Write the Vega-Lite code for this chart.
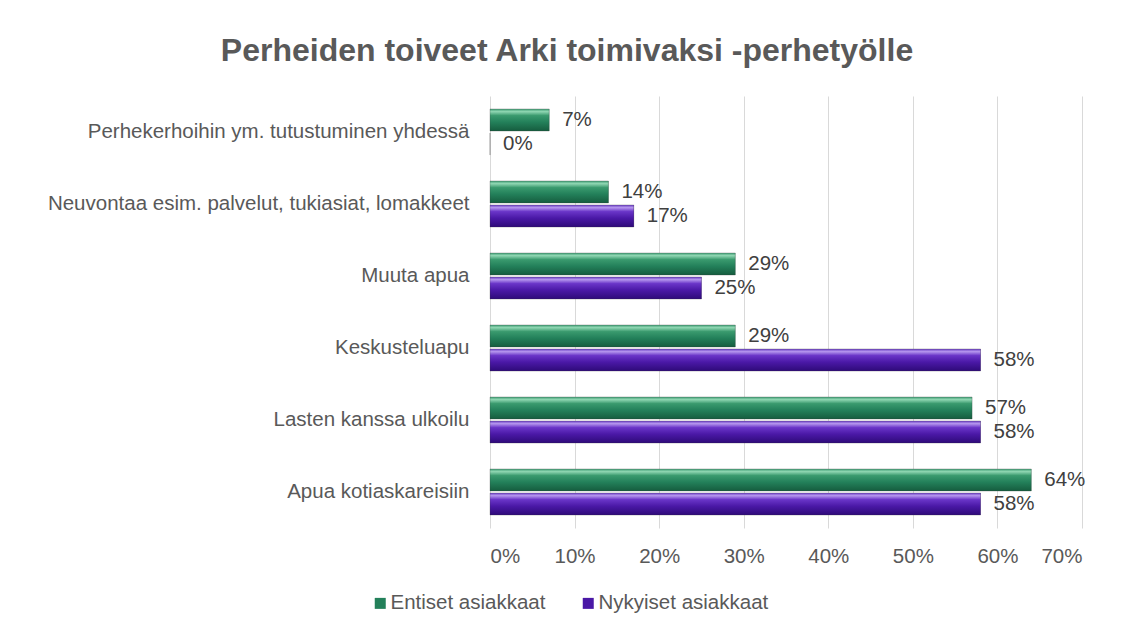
{
  "$schema": "https://vega.github.io/schema/vega-lite/v6.json",
  "width": 592,
  "height": 432,
  "autosize": {"type": "none"},
  "padding": {"left": 490, "top": 96, "right": 50, "bottom": 104},
  "background": "white",
  "config": {"font": "Liberation Sans", "view": {"stroke": null}},
  "title": {
    "text": "Perheiden toiveet Arki toimivaksi -perhetyölle",
    "fontSize": 32,
    "font": "Liberation Sans",
    "fontWeight": "bold",
    "color": "#595959",
    "anchor": "middle",
    "frame": "group",
    "dx": -219,
    "offset": 28
  },
  "data": {
    "values": [
      {"category": "Perhekerhoihin ym. tutustuminen yhdessä", "series": "Entiset asiakkaat", "value": 0.07},
      {"category": "Perhekerhoihin ym. tutustuminen yhdessä", "series": "Nykyiset asiakkaat", "value": 0.0},
      {"category": "Neuvontaa esim. palvelut, tukiasiat, lomakkeet ", "series": "Entiset asiakkaat", "value": 0.14},
      {"category": "Neuvontaa esim. palvelut, tukiasiat, lomakkeet ", "series": "Nykyiset asiakkaat", "value": 0.17},
      {"category": "Muuta apua", "series": "Entiset asiakkaat", "value": 0.29},
      {"category": "Muuta apua", "series": "Nykyiset asiakkaat", "value": 0.25},
      {"category": "Keskusteluapu", "series": "Entiset asiakkaat", "value": 0.29},
      {"category": "Keskusteluapu", "series": "Nykyiset asiakkaat", "value": 0.58},
      {"category": "Lasten kanssa ulkoilu", "series": "Entiset asiakkaat", "value": 0.57},
      {"category": "Lasten kanssa ulkoilu", "series": "Nykyiset asiakkaat", "value": 0.58},
      {"category": "Apua kotiaskareisiin", "series": "Entiset asiakkaat", "value": 0.64},
      {"category": "Apua kotiaskareisiin", "series": "Nykyiset asiakkaat", "value": 0.58}
    ]
  },
  "encoding": {
    "y": {
      "field": "category",
      "type": "nominal",
      "sort": null,
      "scale": {"paddingInner": 0.36, "paddingOuter": 0.18},
      "axis": {
        "title": null,
        "ticks": false,
        "domain": false,
        "labelPadding": 21,
        "labelFontSize": 20.5,
        "labelFont": "Liberation Sans",
        "labelColor": "#595959",
        "labelLimit": 600
      }
    },
    "yOffset": {
      "field": "series",
      "type": "nominal",
      "sort": ["Entiset asiakkaat", "Nykyiset asiakkaat"],
      "scale": {"paddingInner": 0.08}
    },
    "x": {
      "field": "value",
      "type": "quantitative",
      "scale": {"domain": [0, 0.7]},
      "axis": {
        "format": ".0%",
        "values": [0, 0.1, 0.2, 0.3, 0.4, 0.5, 0.6, 0.7],
        "title": null,
        "grid": true,
        "gridColor": "#d9d9d9",
        "domain": false,
        "ticks": false,
        "labelFontSize": 20.5,
        "labelFont": "Liberation Sans",
        "labelColor": "#595959",
        "labelPadding": 18
      }
    }
  },
  "layer": [
    {
      "mark": {"type": "bar"},
      "encoding": {
        "color": {
          "field": "series",
          "type": "nominal",
          "scale": {"domain": ["Entiset asiakkaat", "Nykyiset asiakkaat"], "range": ["#23805a", "#4a18a6"]},
          "legend": {
            "title": null,
            "orient": "none",
            "legendX": -120,
            "legendY": 497,
            "padding": 0,
            "direction": "horizontal",
            "labelFontSize": 20.5,
            "labelFont": "Liberation Sans",
            "labelColor": "#595959",
            "labelLimit": 400,
            "symbolType": "square",
            "symbolSize": 121,
            "symbolStrokeWidth": 0,
            "labelOffset": 0,
            "columnPadding": 32
          }
        }
      }
    },
    {
      "transform": [{"filter": "datum.series === 'Entiset asiakkaat'"}],
      "mark": {
        "type": "bar",
        "stroke": "#3c3c3c",
        "strokeWidth": 0.6,
        "strokeOpacity": 0.45,
        "color": {
          "gradient": "linear",
          "x1": 0, "y1": 0, "x2": 0, "y2": 1,
          "stops": [
            {"offset": 0, "color": "#3f9d74"},
            {"offset": 0.12, "color": "#8fd6b2"},
            {"offset": 0.3, "color": "#3a9a6e"},
            {"offset": 0.6, "color": "#23805a"},
            {"offset": 1, "color": "#155c3e"}
          ]
        }
      }
    },
    {
      "transform": [{"filter": "datum.series === 'Nykyiset asiakkaat'"}],
      "mark": {
        "type": "bar",
        "stroke": "#3c3c3c",
        "strokeWidth": 0.6,
        "strokeOpacity": 0.45,
        "color": {
          "gradient": "linear",
          "x1": 0, "y1": 0, "x2": 0, "y2": 1,
          "stops": [
            {"offset": 0, "color": "#6a3cc4"},
            {"offset": 0.12, "color": "#b596ee"},
            {"offset": 0.3, "color": "#6a35c8"},
            {"offset": 0.6, "color": "#4a18a6"},
            {"offset": 1, "color": "#2e0a78"}
          ]
        }
      }
    },
    {
      "mark": {"type": "text", "align": "left", "baseline": "middle", "dx": 13, "fontSize": 20.5, "font": "Liberation Sans", "color": "#404040"},
      "encoding": {
        "text": {"field": "value", "type": "quantitative", "format": ".0%"}
      }
    }
  ]
}
